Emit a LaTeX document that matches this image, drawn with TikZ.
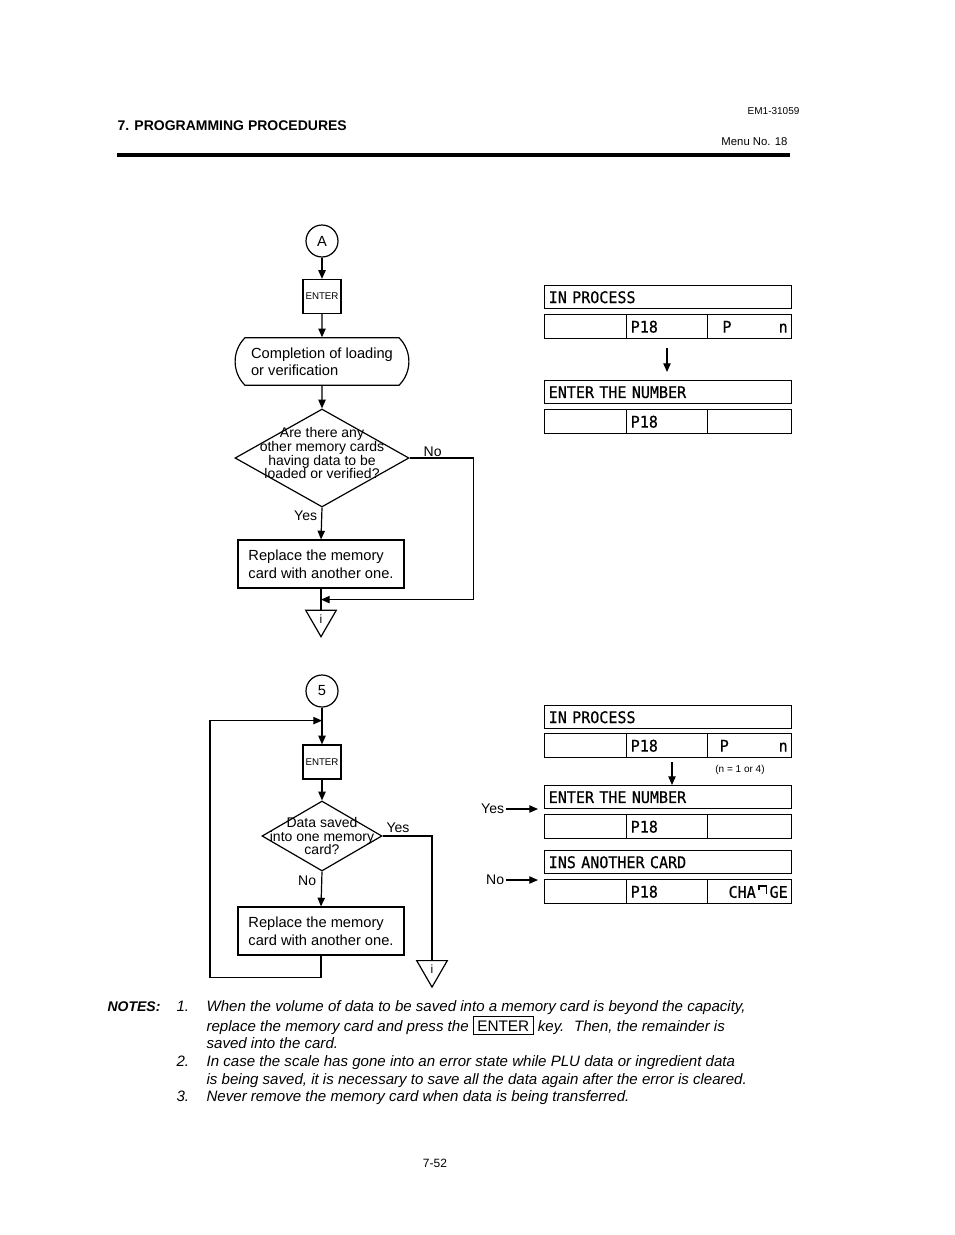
\documentclass[tikz,border=0pt]{standalone}
\usepackage{fontspec}
\setmainfont{Liberation Sans}
\newfontfamily\lcdfont[FakeStretch=0.94,FakeBold=0.6]{DejaVu Sans Mono}
\usetikzlibrary{calc,arrows.meta,shapes.geometric,shapes.misc}

\newcommand\flowfont{\fontsize{11}{12.75}\selectfont}
\newcommand\notefont{\itshape\fontsize{11.3}{12}\selectfont}
\newcommand\brokenN{\,\tikz[baseline=0pt,x=1pt,y=1pt]\draw[line width=0.9pt] (0,5.5) |- (5.5,8.8) -- (5.5,3.2);\,}

\tikzset{
    conn/.style={circle, draw, minimum size=24pt, inner sep=0pt, font=\fontsize{11}{12}\selectfont},
    keybox/.style={rectangle, draw, minimum width=28.5pt, minimum height=25.5pt, inner sep=0pt, font=\fontsize{7.3}{8}\selectfont},
    termbox/.style={rounded rectangle, rounded rectangle arc length=90, draw, minimum width=137pt, minimum height=35.5pt, align=left, font=\flowfont},
    decide/.style={diamond, draw, inner sep=0pt},
    asktext/.style={align=center, inner sep=0pt, font=\fontsize{10.5}{10.2}\selectfont},
    procbox/.style={rectangle, draw, minimum width=124.5pt, minimum height=36pt, align=left, font=\fontsize{11}{13.5}\selectfont},
    offpage/.style={regular polygon, regular polygon sides=3, shape border rotate=180, draw, minimum size=26.5pt, inner sep=0pt, font=\fontsize{9}{10}\selectfont},
    lbl/.style={inner sep=1pt, font=\fontsize{10.5}{12}\selectfont},
    arr/.style={-{Triangle[length=6.5pt,width=5.5pt]}},
    notetext/.style={anchor=base west, inner sep=0pt, font=\notefont},
    dline/.style={draw, line width=1.1pt, anchor=north west, minimum height=17.25pt, text width=179.25pt, inner sep=3pt, align=left, font=\lcdfont\fontsize{12}{12}\selectfont},
    dcell/.style={draw, line width=1.1pt, anchor=north west, minimum height=18pt, text width=#1, inner sep=3pt, align=left, font=\lcdfont\fontsize{12}{12}\selectfont}
}

\begin{document}
\begin{tikzpicture}[x=0.75pt, y=-0.75pt, line width=0.9pt]
    \useasboundingbox (0,0) rectangle (954,1235);

    % page header
    \node[anchor=west, inner sep=0pt, font=\bfseries\fontsize{10.5}{12}\selectfont] (title) at (117,126) {7. PROGRAMMING PROCEDURES};
    \node[anchor=east, inner sep=0pt, font=\fontsize{7.5}{9}\selectfont] (docno) at (800,111) {EM1-31059};
    \node[anchor=east, inner sep=0pt, font=\fontsize{8.5}{10}\selectfont] (menuno) at (788,142) {Menu No. 18};
    \draw[line width=3pt] (117,155) -- (790,155);

    % first flow: after loading or verification
    \node[conn] (conA) at (322,241) {A};
    \node[keybox] (enterA) at (322,296.5) {ENTER};
    \node[termbox] (compl) at (322,361.5) {Completion of loading\\or verification};
    \node[decide, minimum width=130.5pt, minimum height=73.5pt,
          label={[asktext, yshift=3.5pt]center:Are there any\\other memory cards\\having data to be\\loaded or verified?}] (decA) at (322,458) {};
    \node[procbox] (procA) at (321,564) {Replace the memory\\card with another one.};
    \node[offpage, anchor=north] (offA) at ($(procA.south)+(0,21)$) {i};
    \coordinate (joinA) at ($(procA.south)+(0,11)$);

    \draw[arr] (conA) -- (enterA);
    \draw[arr] (enterA) -- (compl);
    \draw[arr] (compl) -- (decA);
    \draw[arr] (decA.south) -- (procA.north);
    \draw (procA.south) -- (offA.north);
    \draw[arr] (decA.east) -- ++(64,0) |- (joinA);
    \node[lbl, anchor=north east] (yesA) at ($(decA.south)+(-3,1)$) {Yes};
    \node[lbl, anchor=south] (noA) at ($(decA.east)+(23,1)$) {No};

    % second flow: saving
    \node[conn] (con5) at (322,691) {5};
    \node[keybox] (enter5) at (322,762) {ENTER};
    \node[decide, minimum width=90pt, minimum height=52.5pt,
          label={[asktext]center:Data saved\\into one memory\\card?}] (dec5) at (322,836) {};
    \node[procbox] (proc5) at (321,931) {Replace the memory\\card with another one.};
    \node[offpage, anchor=north] (off5) at (432,960) {i};
    \coordinate (join5) at ($(con5.south)+(0,13)$);

    \draw[arr] (con5) -- (enter5);
    \draw[arr] (enter5) -- (dec5);
    \draw[arr] (dec5.south) -- (proc5.north);
    \draw (dec5.east) -| (off5.north);
    \draw[arr] (proc5.south) -- ++(0,22) -| ($(join5)+(-112,0)$) -- (join5);
    \node[lbl, anchor=south west] (yes5) at ($(dec5.east)+(2,-1)$) {Yes};
    \node[lbl, anchor=north east] (no5) at ($(dec5.south)+(-4,2)$) {No};

    % display rows
    \def\dispLine#1#2#3{
        \node[dline] (#1) at (544,#2) {#3};
    }
    \def\dispCells#1#2#3#4{
        \node[dcell=55.5pt] (#1a) at (544,#2) {};
        \node[dcell=54.75pt] (#1b) at (626,#2) {#3};
        \node[dcell=57pt] (#1c) at (707,#2) {#4};
    }

    \dispLine{dA1}{285}{IN PROCESS}
    \dispCells{dA2}{314}{P18}{\hspace*{8pt}P\hfill n}
    \dispLine{dA3}{380}{ENTER THE NUMBER}
    \dispCells{dA4}{409}{P18}{}
    \coordinate (stepA) at (667,348);
    \draw[arr] (stepA) -- ++(0,24);

    \dispLine{dB1}{705}{IN PROCESS}
    \dispCells{dB2}{733}{P18}{\hspace*{6pt}P\hfill n}
    \node[inner sep=0pt, font=\fontsize{7.5}{9}\selectfont] (nrange) at (740,770) {(n = 1 or 4)};
    \dispLine{dB3}{785}{ENTER THE NUMBER}
    \dispCells{dB4}{814}{P18}{}
    \dispLine{dB5}{850}{INS ANOTHER CARD}
    \dispCells{dB6}{879}{P18}{\hfill CHA\brokenN GE}
    \coordinate (stepB) at (672,762);
    \draw[arr] (stepB) -- (stepB |- dB3.north);

    \coordinate (yesTip) at ($(dB4a.north west)+(-6,-5)$);
    \coordinate (noTip) at ($(dB6a.north west)+(-6,1)$);
    \node[lbl, anchor=east] (yesB) at ($(yesTip)+(-32,0)$) {Yes};
    \node[lbl, anchor=east] (noB) at ($(noTip)+(-32,0)$) {No};
    \draw[arr] (yesB.east) -- (yesTip);
    \draw[arr] (noB.east) -- (noTip);

    % notes
    \node[anchor=base west, inner sep=0pt, font=\bfseries\itshape\fontsize{10.5}{12}\selectfont] (notes) at (107,1011) {NOTES:};
    \node[notetext] (num1) at (176,1011) {1.};
    \node[notetext] (note1a) at (206,1011) {When the volume of data to be saved into a memory card is beyond the capacity,};
    \node[notetext] (note1b) at (206,1031) {replace the memory card and press the {\setlength\fboxsep{2.5pt}\setlength\fboxrule{0.8pt}\fbox{\upshape\fontsize{11.5}{12}\selectfont ENTER}} key.~ Then, the remainder is};
    \node[notetext] (note1c) at (206,1048) {saved into the card.};
    \node[notetext] (num2) at (176,1066) {2.};
    \node[notetext] (note2a) at (206,1066) {In case the scale has gone into an error state while PLU data or ingredient data};
    \node[notetext] (note2b) at (206,1084) {is being saved, it is necessary to save all the data again after the error is cleared.};
    \node[notetext] (num3) at (176,1101) {3.};
    \node[notetext] (note3) at (206,1101) {Never remove the memory card when data is being transferred.};

    \node[inner sep=0pt, font=\fontsize{9}{10}\selectfont] (pageno) at (435,1163) {7-52};
\end{tikzpicture}
\end{document}
